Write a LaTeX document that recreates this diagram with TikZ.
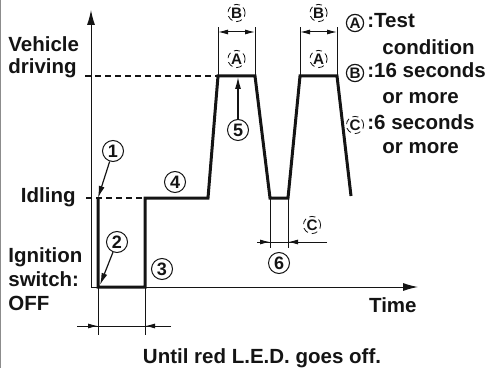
\documentclass[tikz,border=0pt]{standalone}
\usepackage{fontspec}
\setmainfont{Liberation Sans}
\usepackage{tikz}
\usetikzlibrary{arrows.meta,positioning}
\definecolor{DInk}{HTML}{141414}
\definecolor{DEdge}{HTML}{8C8C8C}
\newcommand{\lblfont}{\fontsize{10.25}{12}\selectfont\bfseries}

\begin{document}
\begin{tikzpicture}[
  x=0.5pt,y=-0.5pt,
  every node/.style={font=\lblfont,text=DInk,inner sep=0pt},
  lbl/.style={anchor=base west},
  num/.style={draw=DInk,circle,line width=0.5pt,minimum size=10.5pt,
    font=\fontsize{9}{9}\selectfont\bfseries},
  letr/.style={draw=DInk,circle,densely dashed,line width=0.4pt,minimum size=8.6pt,
    font=\fontsize{7.6}{7.6}\selectfont\bfseries},
  key/.style={letr,solid,line width=0.6pt},
  trace/.style={line width=1.5pt,DInk},
  axis/.style={line width=0.5pt,DInk,-{Latex[length=7.5pt,width=4pt]}},
  guide/.style={line width=0.6pt,DInk,dash pattern=on 3pt off 2pt},
  ext/.style={line width=0.5pt,DInk},
  dim/.style={line width=0.5pt,DInk,-{Latex[length=5pt,width=2.5pt]}},
  span/.style={line width=0.5pt,DInk,{Latex[length=5pt,width=2.5pt]}-{Latex[length=5pt,width=2.5pt]}},
  call/.style={line width=0.6pt,DInk,-{Latex[length=6pt,width=3pt]}}
]
  \useasboundingbox (0,0) rectangle (490,368);
  \draw[DEdge,line width=0.6pt] (0.6,0) -- (0.6,368);

  % axes and level labels
  \coordinate (o) at (91,287);
  \coordinate (ytop) at (91,10);
  \coordinate (xend) at (418,287);
  \draw[axis] (o) -- (ytop);
  \draw[axis] (o) -- (xend);
  \node[lbl] (veh) at (8,52) {Vehicle};
  \node[lbl] (drv) at (8,74) {driving};
  \node[anchor=base east] (idl) at (76,202) {Idling};
  \node[lbl] (ign) at (8,262) {Ignition};
  \node[lbl] (sw) at (8,286) {switch:};
  \node[lbl] (off) at (8,310) {OFF};
  \node[anchor=base east] (time) at (417,312) {Time};
  \node[anchor=base] (until) at (262,363) {Until red L.E.D. goes off.};

  % signal
  \coordinate (s0) at (98,198);
  \coordinate (s1) at (98,287);
  \coordinate (s2) at (145,287);
  \coordinate (s3) at (145,198);
  \coordinate (s4) at (208,198);
  \coordinate (p1) at (218,76);
  \coordinate (p2) at (255,76);
  \coordinate (v1) at (270,198);
  \coordinate (v2) at (288,198);
  \coordinate (p3) at (300,76);
  \coordinate (p4) at (337,76);
  \coordinate (s5) at (351,196);
  \draw[guide] (85,76) -- (p1);
  \draw[guide] (86,198) -- (s3);
  \draw[trace] (s0) -- (s1) -- (s2) -- (s3) -- (s4) -- (p1) -- (p2) -- (v1)
    -- (v2) -- (p3) -- (p4) -- (s5);

  % step markers
  \node[num] (n1) at (113,151) {1};
  \node[num] (n2) at (117,242) {2};
  \node[num] (n3) at (162,269) {3};
  \node[num] (n4) at (175,182) {4};
  \node[num] (n5) at (238,130) {5};
  \node[num] (n6) at (279,263) {6};
  \coordinate (c2) at (100,285);
  \coordinate (c5) at (238,77);
  \draw[call] (n1) -- (s0);
  \draw[call] (n2) -- (c2);
  \draw[call] (n5) -- (c5);

  % hold times at the peaks
  \foreach \l/\r/\m in {218/255/1,300/337/2} {
    \draw[ext] (\l,76) -- (\l,27);
    \draw[ext] (\r,76) -- (\r,27);
    \draw[span] (\l,32) -- (\r,32);
    \node[letr] (b\m) at ({(\l+\r)/2},13) {B};
    \node[letr] (a\m) at ({(\l+\r)/2},59) {A};
  }

  % idle gap
  \draw[ext] (v1) -- (270,248);
  \draw[ext] (v2) -- (288,248);
  \draw[ext] (257,242) -- (327,242);
  \draw[dim] (257,242) -- (270,242);
  \draw[dim] (327,242) -- (288,242);
  \node[letr] (cgap) at (312,225) {C};

  % ignition off time
  \coordinate (d0) at (77,326);
  \coordinate (d1) at (98,326);
  \coordinate (d2) at (145,326);
  \coordinate (d3) at (171,326);
  \draw[ext] (s1) -- (98,335);
  \draw[ext] (s2) -- (145,335);
  \draw[ext] (d0) -- (d3);
  \draw[dim] (d0) -- (d1);
  \draw[dim] (d3) -- (d2);

  % key
  \node[key] (ka) at (355,23) {A};
  \node[lbl] (kat) at (367,28) {:Test};
  \node[lbl] (kat2) at (382,55) {condition};
  \node[key] (kb) at (355,73) {B};
  \node[lbl] (kbt) at (367,78) {:16 seconds};
  \node[lbl] (kbt2) at (382,104) {or more};
  \node[letr] (kc) at (355,125) {C};
  \node[lbl] (kct) at (367,130) {:6 seconds};
  \node[lbl] (kct2) at (382,154) {or more};
\end{tikzpicture}
\end{document}
